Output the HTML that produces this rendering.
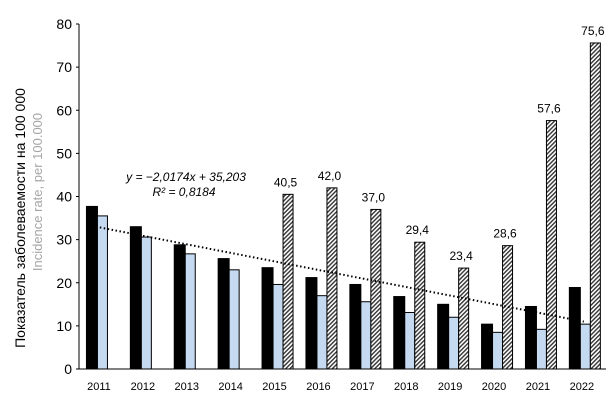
<!DOCTYPE html>
<html><head><meta charset="utf-8"><style>
body{margin:0;background:#fff;}
svg{display:block;font-family:"Liberation Sans",sans-serif;}
</style></head><body>
<svg width="615" height="400">
<defs><pattern id="hatch" width="3" height="3" patternUnits="userSpaceOnUse" patternTransform="rotate(45)"><rect width="3" height="3" fill="#fff"/><rect width="1.4" height="3" fill="#333"/></pattern></defs>
<g id="g"></g>
</svg>
<script>
const years=["2011","2012","2013","2014","2015","2016","2017","2018","2019","2020","2021","2022"];
const blackVals=[37.7,33.0,28.8,25.6,23.5,21.2,19.6,16.8,15.0,10.4,14.5,18.9];
const blueVals=[35.5,30.6,26.7,23.0,19.6,17.0,15.6,13.1,12.0,8.5,9.2,10.4];
const hatchVals=[null,null,null,null,40.5,42.0,37.0,29.4,23.4,28.6,57.6,75.6];
const yTicks=[0,10,20,30,40,50,60,70,80];
const slope=-2.0174, intercept=35.203;
const NS="http://www.w3.org/2000/svg", g=document.getElementById('g');
const x0=79,band=43.9,y0=369,ys=(369-24)/80;
const X=i=>x0+band*(i+0.5), Y=v=>y0-v*ys;
function mk(t,a,txt){const e=document.createElementNS(NS,t);for(const k in a)e.setAttribute(k,a[k]);if(txt!=null)e.textContent=txt;g.appendChild(e);return e;}
yTicks.forEach(v=>{
 const l=mk('line',{x1:76,x2:79,y1:Y(v),y2:Y(v),stroke:'#000'});
 
 
 const t=mk('text',{x:72,y:Y(v)+5,'text-anchor':'end','font-size':14},v);
 
 
});
years.forEach((yr,i)=>{
 const c=X(i);
 const b=mk('rect',{x:c-14.5,y:Y(blackVals[i]),width:11,height:blackVals[i]*ys,fill:'#000',stroke:'#000'});
 
 
 const u=mk('rect',{x:c-3.5,y:Y(blueVals[i]),width:10,height:blueVals[i]*ys,fill:'#c5d9f1',stroke:'#000'});
 
 
 if(hatchVals[i]!=null){
  const h=mk('rect',{x:c+6.5,y:Y(hatchVals[i]),width:10,height:hatchVals[i]*ys,fill:'url(#hatch)',stroke:'#000'});
  
  
  const lt=mk('text',{x:c+9,y:Y(hatchVals[i])-8,'text-anchor':'middle','font-size':12},hatchVals[i].toFixed(1).replace('.',','));
  
  
 }
 const t=mk('text',{x:c-2,y:390,'text-anchor':'middle','font-size':11},yr);
 
 
});
const tr=mk('line',{x1:X(0)-9,y1:Y(slope*1+intercept),x2:X(11),y2:Y(slope*12+intercept),stroke:'#000','stroke-width':2,'stroke-dasharray':'1.5 2.5'});


const ax=mk('line',{x1:79,y1:24,x2:79,y2:369,stroke:'#000'});


const xa=mk('line',{x1:79,y1:369,x2:606,y2:369,stroke:'#000'});


const e1=mk('text',{x:186,y:181,'text-anchor':'middle','font-size':12,'font-style':'italic'},'y = −2,0174x + 35,203');


const e2=mk('text',{x:184,y:196,'text-anchor':'middle','font-size':12,'font-style':'italic'},'R² = 0,8184');


const t1=mk('text',{transform:'translate(25,218) rotate(-90)','text-anchor':'middle','font-size':14},'Показатель заболеваемости на 100 000');


const t2=mk('text',{transform:'translate(42,192) rotate(-90)','text-anchor':'middle','font-size':13,fill:'#a6a6a6'},'Incidence rate, per 100.000');


</script>
</body></html>
